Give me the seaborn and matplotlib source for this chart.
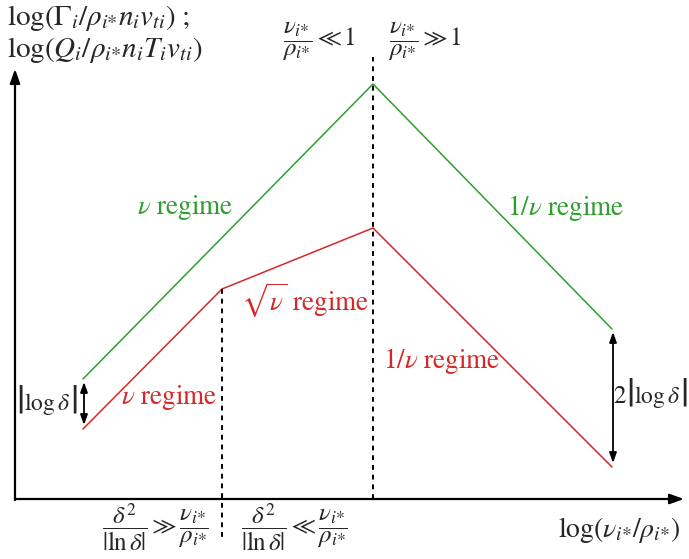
import pandas as pd
import matplotlib
matplotlib.use("Agg")
import matplotlib.pyplot as plt
import seaborn as sns

# Schematic scaling of particle/heat flux with collisionality
# (arbitrary log units, origin at the axes corner)
green_x = [68, 358, 597]
green_y = [120, 415, 170]
red_x = [68, 207, 358, 597]
red_y = [70, 210, 271, 32]

GREEN = "#2ca02c"
RED = "#d62728"

NU = r"\nu_{i{*}}"
RHO = r"\rho_{i{*}}"


def abs_log_delta(ax, x, y, prefix=""):
    """|log delta| with tall bars, like LaTeX \\left| ... \\right|."""
    if prefix:
        ax.text(x - 37, y, prefix, fontsize=18, va="center", ha="center")
    ax.text(x - 27, y + 1, "|", fontsize=30, va="center", ha="center")
    ax.text(x, y, r"$\log\delta$", fontsize=17, va="center", ha="center")
    ax.text(x + 27, y + 1, "|", fontsize=30, va="center", ha="center")


def main():
    sns.set_theme(style="white")
    plt.rcParams["mathtext.fontset"] = "stix"
    plt.rcParams["font.family"] = ["STIXGeneral", "DejaVu Serif"]

    green = pd.DataFrame({"x": green_x, "y": green_y})
    red = pd.DataFrame({"x": red_x, "y": red_y})

    fig = plt.figure(figsize=(6.89, 5.59), dpi=100)
    ax = fig.add_axes([0, 0, 1, 1])

    sns.lineplot(data=green, x="x", y="y", sort=False, color=GREEN, lw=1.1, ax=ax)
    sns.lineplot(data=red, x="x", y="y", sort=False, color=RED, lw=1.1, ax=ax)

    ax.set_xlim(-15, 674)
    ax.set_ylim(-60, 499)
    ax.set_axis_off()

    # axes with arrow heads
    arrow = dict(arrowstyle="-|>,head_length=0.7,head_width=0.25", color="black", lw=1.6,
                 shrinkA=0, shrinkB=0)
    ax.annotate("", xy=(669, 0), xytext=(0, 0), arrowprops=arrow)
    ax.annotate("", xy=(0, 430), xytext=(0, -1), arrowprops=arrow)

    # regime boundaries
    ax.plot([green_x[1], green_x[1]], [0, 442], ls=(0, (2.5, 2.5)), color="black", lw=1.4)
    ax.plot([red_x[1], red_x[1]], [red_y[1], -42], ls=(0, (2.5, 2.5)), color="black", lw=1.4)

    # gap arrows
    dbl = dict(arrowstyle="<|-|>,head_length=0.5,head_width=0.18", color="black", lw=1.3,
               shrinkA=0, shrinkB=0)
    ax.annotate("", xy=(green_x[0] + 1, green_y[0] - 3), xytext=(red_x[0] + 1, red_y[0] + 4),
                arrowprops=dbl)
    ax.annotate("", xy=(green_x[-1] + 1, green_y[-1] - 3), xytext=(red_x[-1] + 1, red_y[-1] + 4),
                arrowprops=dbl)

    # labels
    ax.text(-8, 481, r"$\log(\Gamma_i/" + RHO + r"n_i v_{ti})\;;$", fontsize=21,
            va="center", ha="left")
    ax.text(-8, 449, r"$\log(Q_i/" + RHO + r"n_i T_i v_{ti})$", fontsize=21,
            va="center", ha="left")
    ax.text(304, 458, r"$\dfrac{" + NU + "}{" + RHO + r"} \ll 1$", fontsize=18,
            va="center", ha="center")
    ax.text(410, 458, r"$\dfrac{" + NU + "}{" + RHO + r"} \gg 1$", fontsize=18,
            va="center", ha="center")

    ax.text(170, 291, r"$\nu$ regime", color=GREEN, fontsize=19.5, va="center", ha="center")
    ax.text(551, 291, r"$1/\nu$ regime", color=GREEN, fontsize=19.5, va="center", ha="center")
    ax.text(290, 199, r"$\sqrt{\nu}$ regime", color=RED, fontsize=19.5, va="center", ha="center")
    ax.text(427, 138, r"$1/\nu$ regime", color=RED, fontsize=19.5, va="center", ha="center")
    ax.text(154, 102, r"$\nu$ regime", color=RED, fontsize=19.5, va="center", ha="center")

    abs_log_delta(ax, 32, 95)
    abs_log_delta(ax, 642, 102, prefix="2")

    ax.text(140, -28, r"$\dfrac{\delta^2}{|\ln\delta|} \gg \dfrac{" + NU + "}{" + RHO + "}$",
            fontsize=18, va="center", ha="center")
    ax.text(279, -28, r"$\dfrac{\delta^2}{|\ln\delta|} \ll \dfrac{" + NU + "}{" + RHO + "}$",
            fontsize=18, va="center", ha="center")
    ax.text(604, -31, r"$\log(" + NU + "/" + RHO + ")$", fontsize=20,
            va="center", ha="center")

    fig.savefig("out.png", dpi=100)
    plt.close(fig)


if __name__ == "__main__":
    main()
